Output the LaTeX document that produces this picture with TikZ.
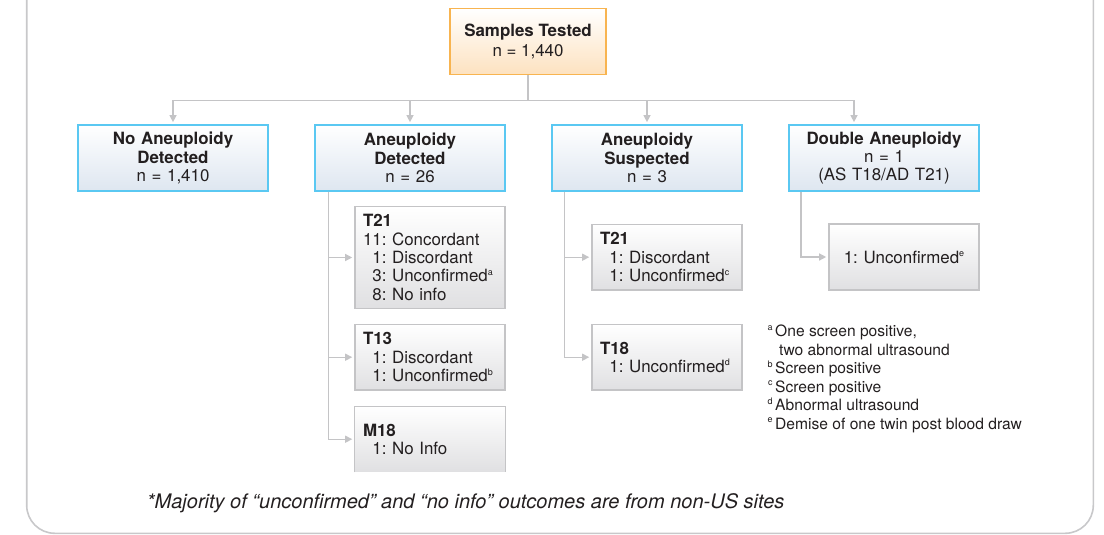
\documentclass[tikz,border=0pt]{standalone}
\usepackage{fontspec}
\setmainfont{TeX Gyre Heros}
\usetikzlibrary{arrows.meta}
\frenchspacing
\definecolor{tinta}{RGB}{35,31,32}
\definecolor{gris}{RGB}{196,196,198}
\definecolor{marcogris}{RGB}{200,200,202}
\definecolor{naranja}{RGB}{248,180,80}
\definecolor{melocoton}{RGB}{253,226,192}
\definecolor{celeste}{RGB}{90,200,242}
\definecolor{azulclaro}{RGB}{222,230,240}
\definecolor{grisclaro}{RGB}{224,224,226}
\newcommand{\nota}[1]{\raisebox{6.5pt}{\fontsize{9}{9}\selectfont #1}}
\tikzset{
    every node/.style={text=tinta, font=\fontsize{16.9}{18.4}\selectfont},
    raiz/.style={draw=naranja, line width=1.2pt, top color=white, bottom color=melocoton,
        minimum width=156pt, minimum height=65.6pt, inner sep=0pt, align=center},
    nivel/.style={draw=celeste, line width=1.3pt, top color=white, bottom color=azulclaro,
        minimum width=190pt, minimum height=66pt, inner sep=0pt, text width=184pt, align=center},
    hijo/.style={draw=gris, line width=1.2pt, top color=white, bottom color=grisclaro,
        minimum width=150pt, inner xsep=8pt, inner ysep=0pt, text width=134pt, align=left},
    borde/.style={draw=gris, line width=1.2pt},
    enlace/.style={draw=gris, line width=1.3pt},
    flecha/.style={enlace, -{Triangle[length=7pt,width=7pt]}, shorten >=2.2pt},
    marco/.style={draw=marcogris, line width=1.6pt, rounded corners=28pt},
}
\begin{document}
\begin{tikzpicture}[x=1pt,y=-1pt]
            \useasboundingbox (0,0) rectangle (1104,535);
            \draw[marco] (26.7,0) -- (26.7,533.3) -- (1093.3,533.3) -- (1093.3,0);
            \node[raiz] (caja0) at (528,41.5) {\textbf{Samples Tested}\\[1.6pt]n = 1,440};
            \node[nivel] (caja1) at (173,158) {\textbf{No Aneuploidy}\\\textbf{Detected}\\n = 1,410};
            \node[nivel] (caja2) at (410,158) {\textbf{Aneuploidy}\\\textbf{Detected}\\n = 26};
            \node[nivel] (caja3) at (647,158) {\textbf{Aneuploidy}\\\textbf{Suspected}\\n = 3};
            \node[nivel] (caja4) at (884,158) {\textbf{Double Aneuploidy}\\n = 1\\(AS T18/AD T21)};
            \node[hijo, minimum height=101.6pt] (hijo1) at (430,257.5) {\textbf{T21}\\11: Concordant\\\phantom{1}1: Discordant\\\phantom{1}3: Unconfirmed\nota{a}\\\phantom{1}8: No info};
            \node[hijo, minimum height=65.7pt] (hijo2) at (430,357.2) {\textbf{T13}\\\phantom{1}1: Discordant\\\phantom{1}1: Unconfirmed\nota{b}};
            \node[hijo, draw=none, minimum height=65pt] (hijo3) at (430,439.2) {\textbf{M18}\\\phantom{1}1: No Info};
            \node[hijo, minimum height=65.7pt] (hijo4) at (667,257.2) {\textbf{T21}\\\phantom{1}1: Discordant\\\phantom{1}1: Unconfirmed\nota{c}};
            \node[hijo, minimum height=65.7pt] (hijo5) at (667,357.2) {\textbf{T18}\\\phantom{1}1: Unconfirmed\nota{d}};
            \node[hijo, minimum height=66pt, align=center] (hijo6) at (904,257) {1: Unconfirmed\nota{e}};
            \draw[borde] (hijo3.south west) -- (hijo3.north west) -- (hijo3.north east) -- (hijo3.south east);
            % notas
            \node[anchor=north west, align=left, inner sep=0pt, font=\fontsize{15.6}{18.5}\selectfont] (notas) at (775,325)
                {\llap{\nota{a}\,}One screen positive,\\\hspace{4pt}two abnormal ultrasound\\\llap{\nota{b}\,}Screen positive\\\llap{\nota{c}\,}Screen positive\\\llap{\nota{d}\,}Abnormal ultrasound\\\llap{\nota{e}\,}Demise of one twin post blood draw};
            \node[anchor=west, inner sep=0pt, font=\fontsize{20}{22}\selectfont\itshape] (pie) at (146.7,503)
                {*Majority of “unconfirmed” and “no info” outcomes are from non-US sites};
            % conectores
            \coordinate (bus) at (528,100.5);
            \draw[enlace] (caja0.south) -- (bus);
            \draw[flecha] (bus) -| (caja1.north);
            \draw[flecha] (bus) -| (caja2.north);
            \draw[flecha] (bus) -| (caja3.north);
            \draw[flecha] (bus) -| ([xshift=-30pt]caja4.north);
            \draw[flecha] ([xshift=14.3pt]caja2.south west) |- (hijo1.west);
            \draw[flecha] ([xshift=14.3pt]caja2.south west) |- (hijo2.west);
            \draw[flecha] ([xshift=14.3pt]caja2.south west) |- (hijo3.west);
            \draw[flecha] ([xshift=13pt]caja3.south west) |- (hijo4.west);
            \draw[flecha] ([xshift=13pt]caja3.south west) |- (hijo5.west);
            \draw[flecha] ([xshift=12.7pt]caja4.south west) |- (hijo6.west);
        \end{tikzpicture}
\end{document}
